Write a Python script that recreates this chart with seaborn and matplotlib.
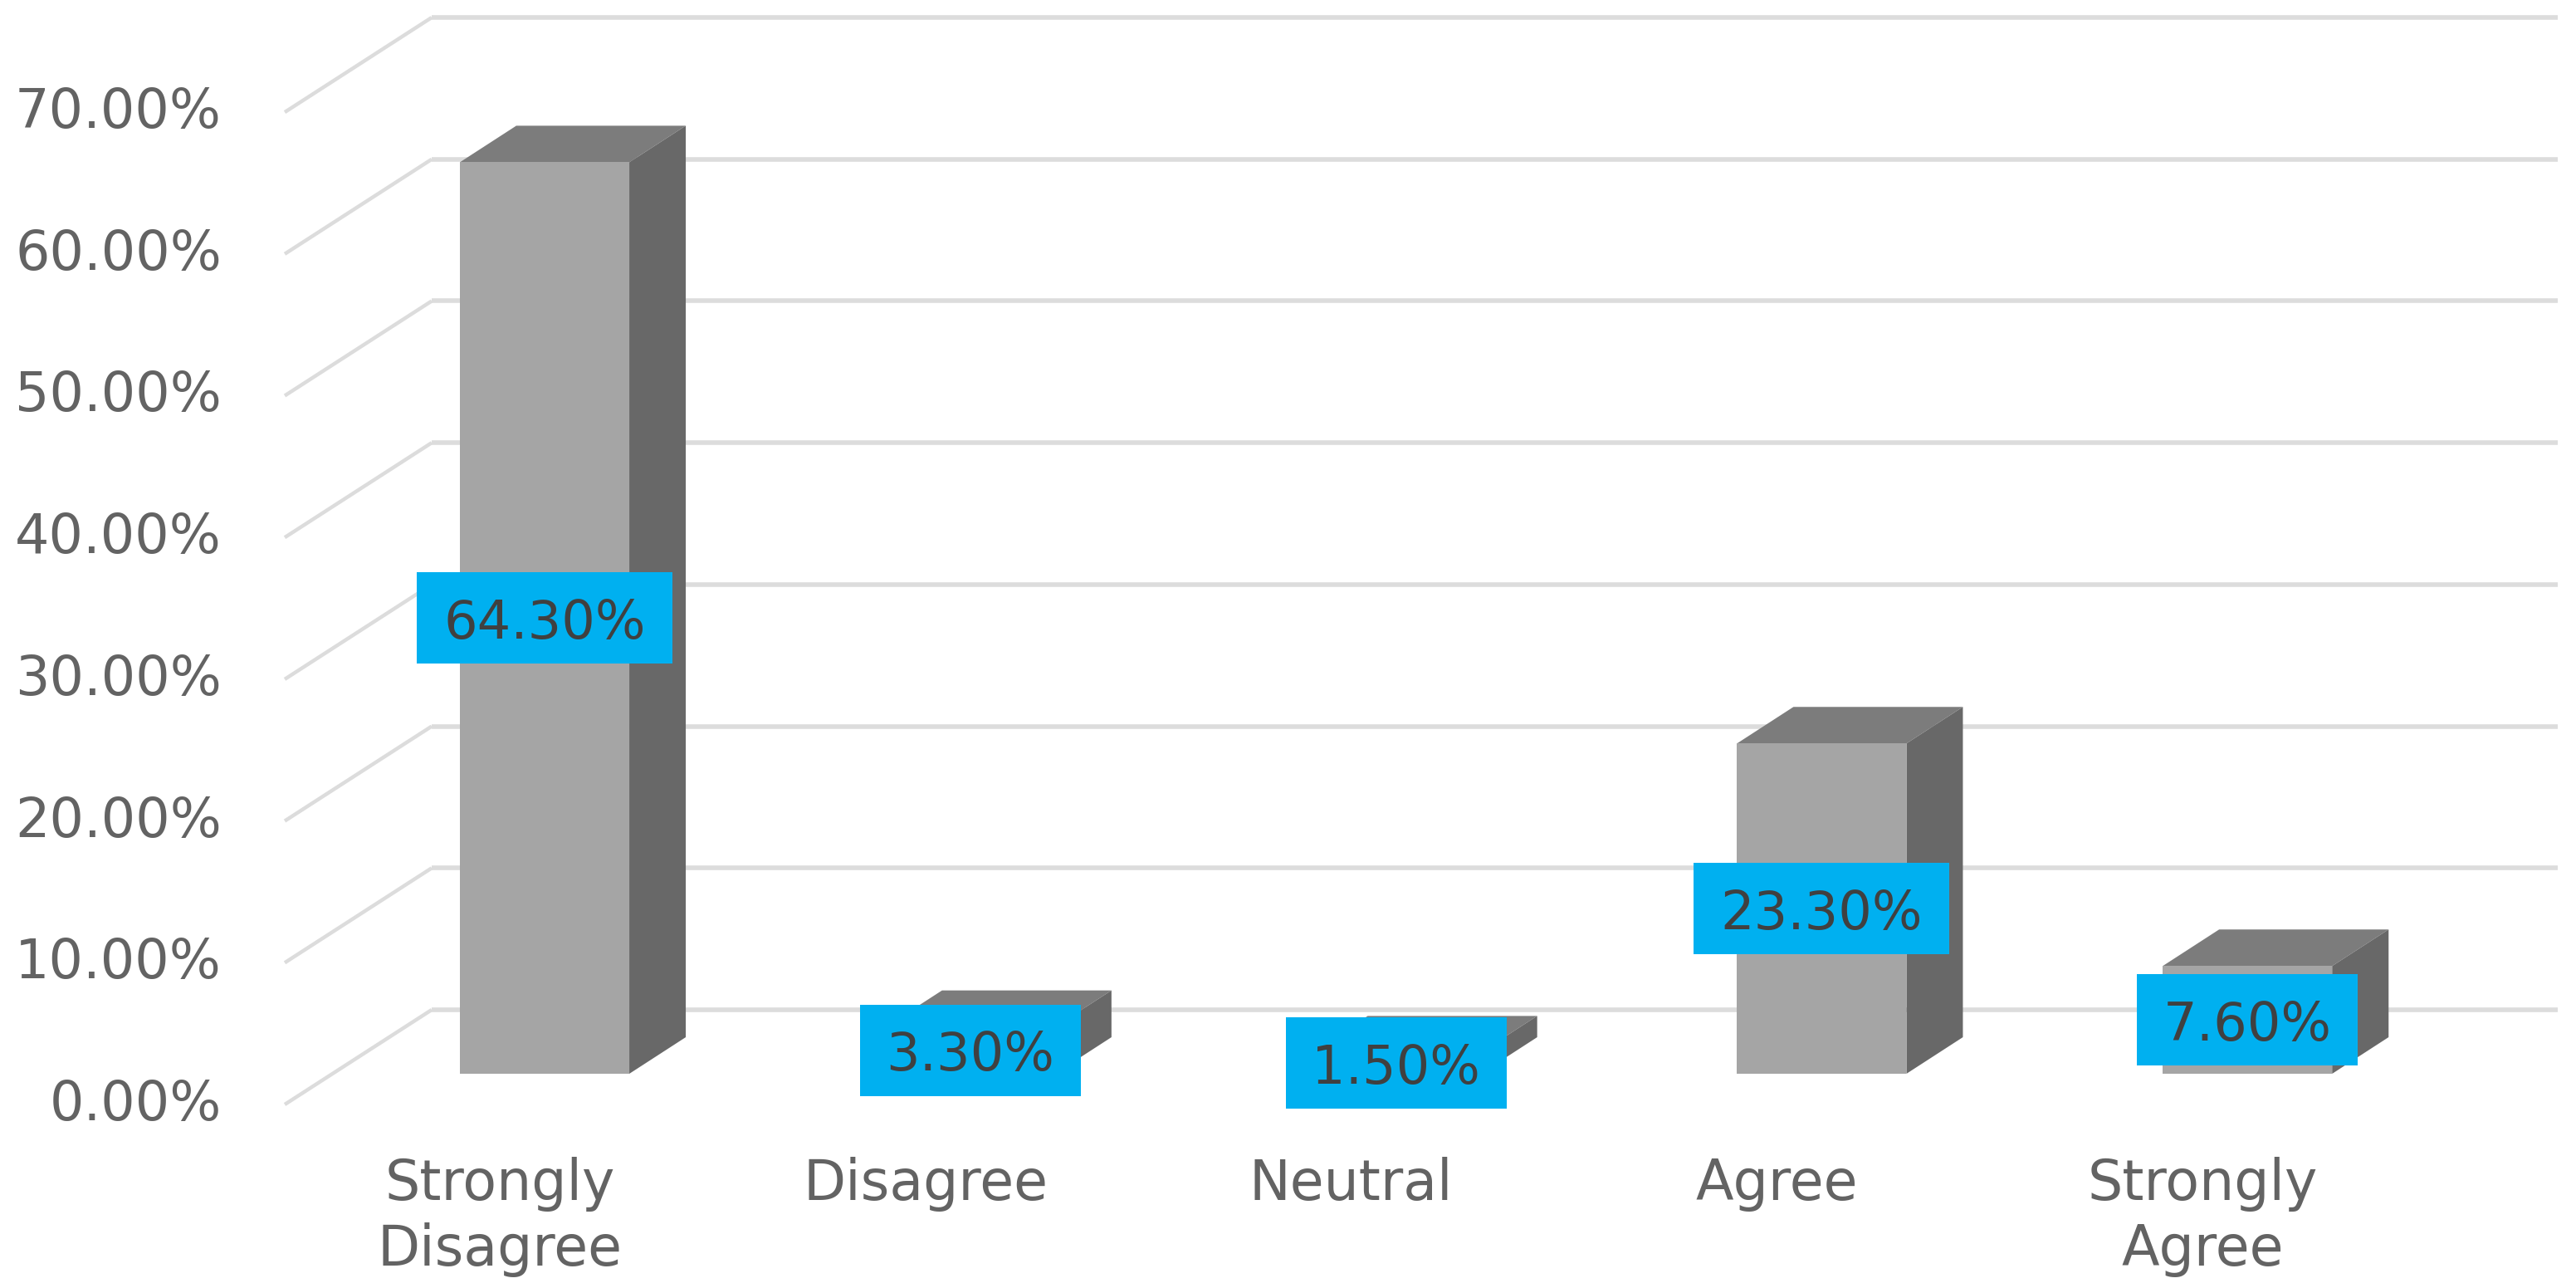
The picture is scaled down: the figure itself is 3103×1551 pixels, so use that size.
import numpy as np
import pandas as pd
import matplotlib
matplotlib.use("Agg")
import matplotlib.pyplot as plt
from matplotlib.patches import Rectangle
from matplotlib.transforms import ScaledTranslation
import seaborn as sns

categories = ["Strongly\nDisagree", "Disagree", "Neutral", "Agree", "Strongly\nAgree"]
values = [64.3, 3.3, 1.5, 23.3, 7.6]
value_labels = ["64.30%", "3.30%", "1.50%", "23.30%", "7.60%"]
ticks = [0, 10, 20, 30, 40, 50, 60, 70]
tick_labels = ["0.00%", "10.00%", "20.00%", "30.00%", "40.00%", "50.00%", "60.00%", "70.00%"]

W, H, DPI = 3103, 1551, 100
PX_UNIT = 17.07      # pixels per percentage point
PX_CAT = 512.8       # pixels per category
BASE_Y = 1293        # pixel row of the front baseline
LEFT, RIGHT = 343, 3081
CENTER0 = 656

sns.set_theme(style="white")
plt.rcParams["font.family"] = ["DejaVu Sans"]

fig = plt.figure(figsize=(W / DPI, H / DPI), dpi=DPI, facecolor="white")
ax = fig.add_axes([LEFT / W, (H - BASE_Y) / H, (RIGHT - LEFT) / W, BASE_Y / H])
df = pd.DataFrame({"category": categories, "value": values})
sns.barplot(data=df, x="category", y="value", color="#A5A5A5", saturation=1,
            width=0.398, ax=ax, zorder=4, linewidth=0, edgecolor="none")
ax.set_xlim((LEFT - CENTER0) / PX_CAT, (RIGHT - CENTER0) / PX_CAT)
ax.set_ylim(0, BASE_Y / PX_UNIT)
ax.set_xlabel("")
ax.set_ylabel("")
sns.despine(ax=ax, left=True, bottom=True, top=True, right=True)

# floor / wall geometry of the pseudo 3D chart
wall_x = (520 - CENTER0) / PX_CAT
wall_dy = (BASE_Y - 1216) / PX_UNIT
front_dy = (BASE_Y - 1330) / PX_UNIT
x_min, x_max = ax.get_xlim()
grid = "#DCDCDC"
for t in ticks:
    ax.plot([x_min, wall_x], [t + front_dy, t + wall_dy], color=grid, lw=3.2,
            clip_on=False, zorder=1, solid_capstyle="butt")
    ax.plot([wall_x, x_max], [t + wall_dy, t + wall_dy], color=grid, lw=4.0,
            clip_on=False, zorder=1, solid_capstyle="butt")

# depth faces of the bars
dx, dy = 68 / PX_CAT, 44 / PX_UNIT
half = 0.398 / 2
for i, v in enumerate(values):
    ax.fill([i - half, i + half, i + half + dx, i - half + dx],
            [v, v, v + dy, v + dy], color="#7C7C7C", lw=0, zorder=3)
    ax.fill([i + half, i + half + dx, i + half + dx, i + half],
            [0, dy, v + dy, v], color="#686868", lw=0, zorder=3)

# data labels
box_h = 110 / PX_UNIT
for i, (v, lab) in enumerate(zip(values, value_labels)):
    box_w = (308 if len(lab) == 6 else 266) / PX_CAT
    ax.add_patch(Rectangle((i - box_w / 2, v / 2 - box_h / 2), box_w, box_h,
                           facecolor="#00B0F0", edgecolor="none", zorder=6,
                           clip_on=False))
    ax.text(i, v / 2, lab, ha="center", va="center_baseline", fontsize=46,
            color="#404040", zorder=7, clip_on=False)

# axes text
ax.set_yticks(ticks, tick_labels)
ax.tick_params(axis="y", length=0, pad=76 * 72 / DPI, labelsize=47, labelcolor="#636363")
shift_y = ScaledTranslation(0, (front_dy * PX_UNIT + 6) / DPI, fig.dpi_scale_trans)
for lab in ax.get_yticklabels():
    lab.set_transform(lab.get_transform() + shift_y)

ax.tick_params(axis="x", length=0, pad=100 * 72 / DPI, labelsize=48, labelcolor="#636363")
shift_x = ScaledTranslation(-54 / DPI, 0, fig.dpi_scale_trans)
for lab in ax.get_xticklabels():
    lab.set_transform(lab.get_transform() + shift_x)
    lab.set_linespacing(1.25)

fig.savefig("out.png", dpi=DPI, facecolor="white")
